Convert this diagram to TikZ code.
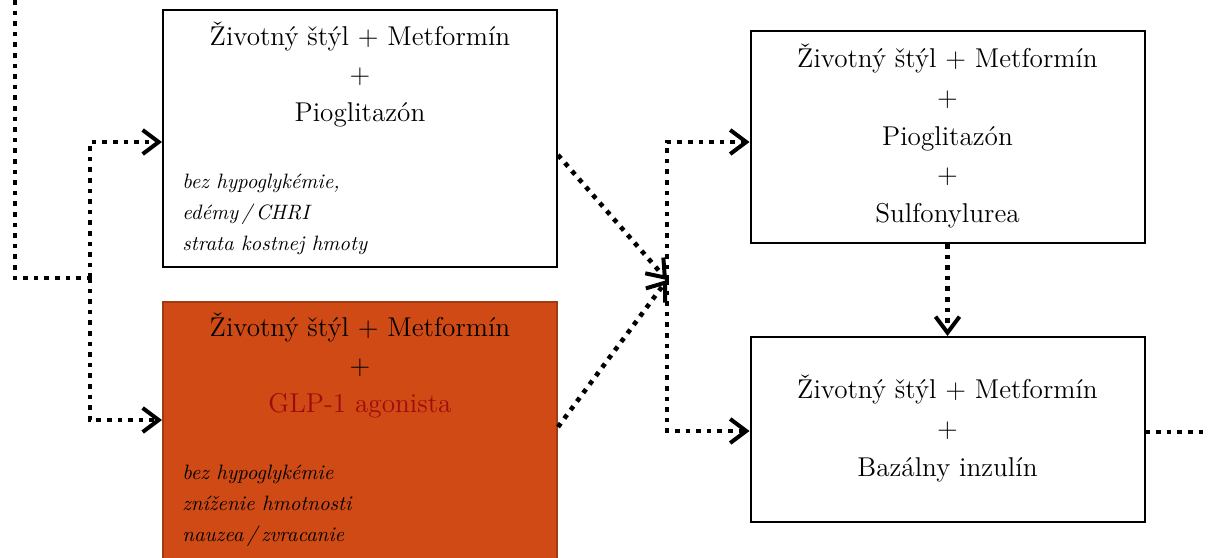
\documentclass[tikz,border=0pt]{standalone}
\usepackage{fontspec}
\usetikzlibrary{arrows.meta}
\definecolor{glporange}{RGB}{208,74,22}
\definecolor{glpedge}{RGB}{160,60,20}
\definecolor{glpred}{RGB}{160,10,10}
\tikzset{
  box/.style={draw, line width=1pt, minimum width=197pt, minimum height=128.5pt, inner sep=0pt},
  title/.style={anchor=north, align=center, inner sep=0pt, font=\fontsize{13.6}{19}\selectfont},
  note/.style={anchor=north west, align=left, inner sep=0pt, font=\fontsize{10.4}{15.4}\selectfont\itshape},
  flowline/.style={line width=2.3pt, dash pattern=on 2.3pt off 3pt},
  flow/.style={flowline, -{Straight Barb[length=8pt,width=12pt,line width=2pt]}}
}
\begin{document}
\begin{tikzpicture}[x=0.5pt, y=-0.5pt]
            \useasboundingbox (0,0) rectangle (1208,557);
            \node[box] (metpio) at (360,138.5) {};
            \node[box, fill=glporange, draw=glpedge] (metglp) at (360,430) {};
            \node[box, minimum height=106pt] (metpiosu) at (947.5,137) {};
            \node[box, minimum height=92.5pt] (metins) at (947.5,429.5) {};

            \node[title] (metpiotext) at (360,22) {Životný štýl + Metformín\\+\\Pioglitazón};
            \node[note] (metpionote) at (182,174) {bez hypoglykémie,\\edémy\,/\,CHRI\\strata kostnej hmoty};
            \node[title] (metglptext) at (360,313) {Životný štýl + Metformín\\+\\{\color{glpred}GLP-1 agonista}};
            \node[note] (metglpnote) at (182,465) {bez hypoglykémie\\zníženie hmotnosti\\nauzea\,/\,zvracanie};
            \node[title, font=\fontsize{13.6}{19.3}\selectfont] (metpiosutext) at (947.5,44) {Životný štýl + Metformín\\+\\Pioglitazón\\+\\Sulfonylurea};
            \node[title, font=\fontsize{13.6}{19.5}\selectfont] (metinstext) at (947.5,375) {Životný štýl + Metformín\\+\\Bazálny inzulín};

            \coordinate (entry) at (15,0);
            \coordinate (fork) at (90,278);
            \coordinate (merge) at (667,280);
            \coordinate (exit) at (1208,432);

            \draw[flowline] (entry) |- (fork);
            \draw[flow] (fork) |- (metpio.west |- 0,142);
            \draw[flow] (fork) |- (metglp.west |- 0,420);
            \draw[flow] (metpio.east |- 0,155) -- (merge);
            \draw[flow] (metglp.east |- 0,427) -- (merge);
            \draw[flow] (merge) |- (metpiosu.west |- 0,142);
            \draw[flow] (merge) |- (metins.west |- 0,431);
            \draw[flow] (metpiosu.south) -- (metins.north);
            \draw[flowline] (metins.east |- exit) -- (exit);
        \end{tikzpicture}
\end{document}
